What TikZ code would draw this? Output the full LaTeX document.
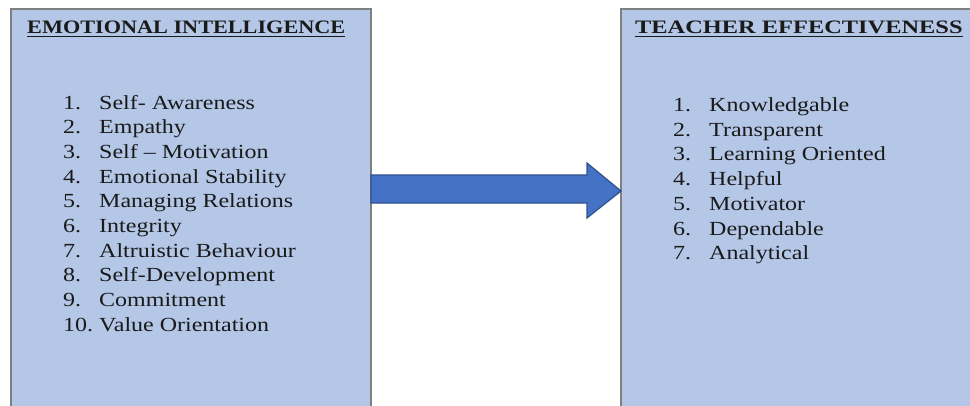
\documentclass[tikz,border=0pt]{standalone}
\usepackage{fontspec}
\setmainfont[FakeStretch=1.2]{Liberation Serif}
\definecolor{boxfill}{HTML}{B4C7E7}
\definecolor{boxline}{HTML}{7F7F7F}
\definecolor{arrfill}{HTML}{4472C4}
\definecolor{arrline}{HTML}{2F528F}
\definecolor{txt}{HTML}{1A1A1A}
\begin{document}
\begin{tikzpicture}[x=1pt,y=-1pt,
  panel/.style={draw=boxline,line width=1.5pt,fill=boxfill},
  title/.style={anchor=base west,inner sep=0pt,font=\fontsize{19}{22}\selectfont\bfseries,text=txt},
  item/.style={anchor=base west,inner sep=0pt,font=\fontsize{20}{24}\selectfont,text=txt},
  uline/.style={line width=1.7pt,draw=txt},
  bigarrow/.style={draw=arrline,line width=1.2pt,fill=arrfill,line join=miter}]
\clip (0,0) rectangle (970,405);
\fill[white] (0,0) rectangle (970,405);
% panels
\draw[panel] (11,9) rectangle (371,425);
\draw[panel] (621,9) rectangle (985,425);
% arrow
\draw[bigarrow] (371,175) -- (587,175) -- (587,163) -- (621,191) -- (587,218) -- (587,203) -- (371,203) -- cycle;
% titles
\node[title] (tl) at (27,33.5) {\scalebox{0.975}[1]{EMOTIONAL INTELLIGENCE}};
\draw[uline] ([yshift=-3pt]tl.base west) -- ([yshift=-3pt]tl.base east);
\node[title] (tr) at (635,33.5) {\scalebox{1.07}[1]{TEACHER EFFECTIVENESS}};
\draw[uline] ([yshift=-3pt]tr.base west) -- ([yshift=-3pt]tr.base east);
% left list
\foreach \t [count=\k] in {Self- Awareness,Empathy,Self – Motivation,Emotional Stability,Managing Relations,Integrity,Altruistic Behaviour,Self-Development,Commitment,Value Orientation}{
  \node[item] (ln\k) at (63,{109+(\k-1)*24.7}) {\k.};
  \node[item] (lt\k) at (99,{109+(\k-1)*24.7}) {\t};
}
% right list
\foreach \t [count=\k] in {Knowledgable,Transparent,Learning Oriented,Helpful,Motivator,Dependable,Analytical}{
  \node[item] (rn\k) at (673,{111.5+(\k-1)*24.7}) {\k.};
  \node[item] (rt\k) at (709,{111.5+(\k-1)*24.7}) {\t};
}
\end{tikzpicture}
\end{document}
